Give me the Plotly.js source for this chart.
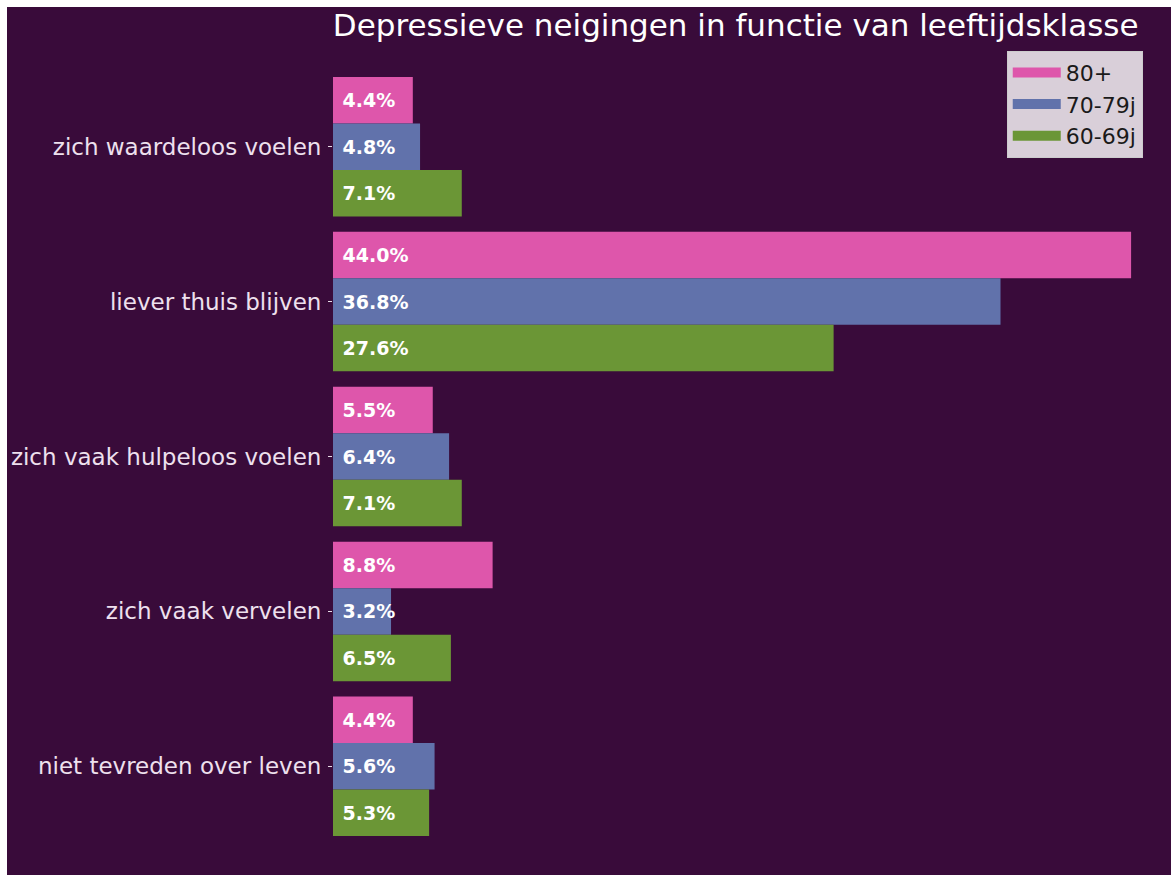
<!DOCTYPE html>
<html>
<head>
<meta charset="utf-8">
<script src="https://cdn.plot.ly/plotly-3.0.1.min.js"></script>
<style>
  html, body { margin: 0; padding: 0; background: #ffffff; width: 1171px; height: 875px; overflow: hidden; }
  #chart { position: absolute; left: 7px; top: 7px; width: 1164px; height: 868px; }
</style>
</head>
<body>
<div id="chart"></div>
<script>
const categories = [
  "zich waardeloos voelen",
  "liever thuis blijven",
  "zich vaak hulpeloos voelen",
  "zich vaak vervelen",
  "niet tevreden over leven"
];
const seriesNames = ["80+", "70-79j", "60-69j"];
const values80 = [4.4, 44.0, 5.5, 8.8, 4.4];
const values70 = [4.8, 36.8, 6.4, 3.2, 5.6];
const values60 = [7.1, 27.6, 7.1, 6.5, 5.3];
const colors = ["#de56ab", "#6172ab", "#6b9636"];

const allValues = [values80, values70, values60];
const traces = allValues.map((vals, i) => ({
  type: "bar",
  orientation: "h",
  name: seriesNames[i],
  showlegend: false,
  x: vals,
  y: categories,
  marker: { color: colors[i], line: { width: 0 } },
  texttemplate: " %{x:.1f}%",
  textposition: "inside",
  insidetextanchor: "start",
  constraintext: "none",
  textfont: { family: "DejaVu Sans", size: 19, color: "#ffffff", weight: "bold" },
  hoverinfo: "x+y+name"
}));

// legend-only entries (wide rectangular swatches)
seriesNames.forEach((nm, i) => {
  traces.push({
    type: "scatter",
    mode: "lines",
    name: nm,
    legendgroup: "g" + i,
    x: [null],
    y: [null],
    line: { color: colors[i], width: 17 },
    hoverinfo: "skip"
  });
});

const layout = {
  paper_bgcolor: "#390b3a",
  plot_bgcolor: "#390b3a",
  barmode: "group",
  bargap: 0.1,
  bargroupgap: 0,
  margin: { l: 326, r: 0, t: 32, b: 1, autoexpand: false },
  title: {
    text: "Depressieve neigingen in functie van leeftijdsklasse",
    font: { family: "DejaVu Sans", size: 31, color: "#ffffff" },
    xref: "container", x: 0.626, xanchor: "center",
    yref: "container", y: 0.979, yanchor: "middle"
  },
  xaxis: {
    range: [0, 46.2],
    visible: false,
    showgrid: false,
    zeroline: false
  },
  yaxis: {
    type: "category",
    categoryorder: "array",
    categoryarray: categories,
    range: [4.695, -0.695],
    showgrid: false,
    zeroline: false,
    showline: false,
    ticks: "outside",
    ticklen: 4,
    tickwidth: 1,
    tickcolor: "#e8dce8",
    ticklabelstandoff: 2,
    tickfont: { family: "DejaVu Sans", size: 23, color: "#eee0ee" }
  },
  showlegend: true,
  legend: {
    xref: "paper", yref: "paper",
    x: 0.804, y: 0.986, xanchor: "left", yanchor: "top",
    bgcolor: "rgba(226,218,226,0.95)",
    bordercolor: "#cccccc",
    borderwidth: 1,
    font: { family: "DejaVu Sans", size: 22, color: "#1a1a1a" },
    traceorder: "normal",
    tracegroupgap: 2,
    itemwidth: 48
  },
  font: { family: "DejaVu Sans" }
};

Plotly.newPlot("chart", traces, layout, { displayModeBar: false, responsive: false });
</script>
</body>
</html>
